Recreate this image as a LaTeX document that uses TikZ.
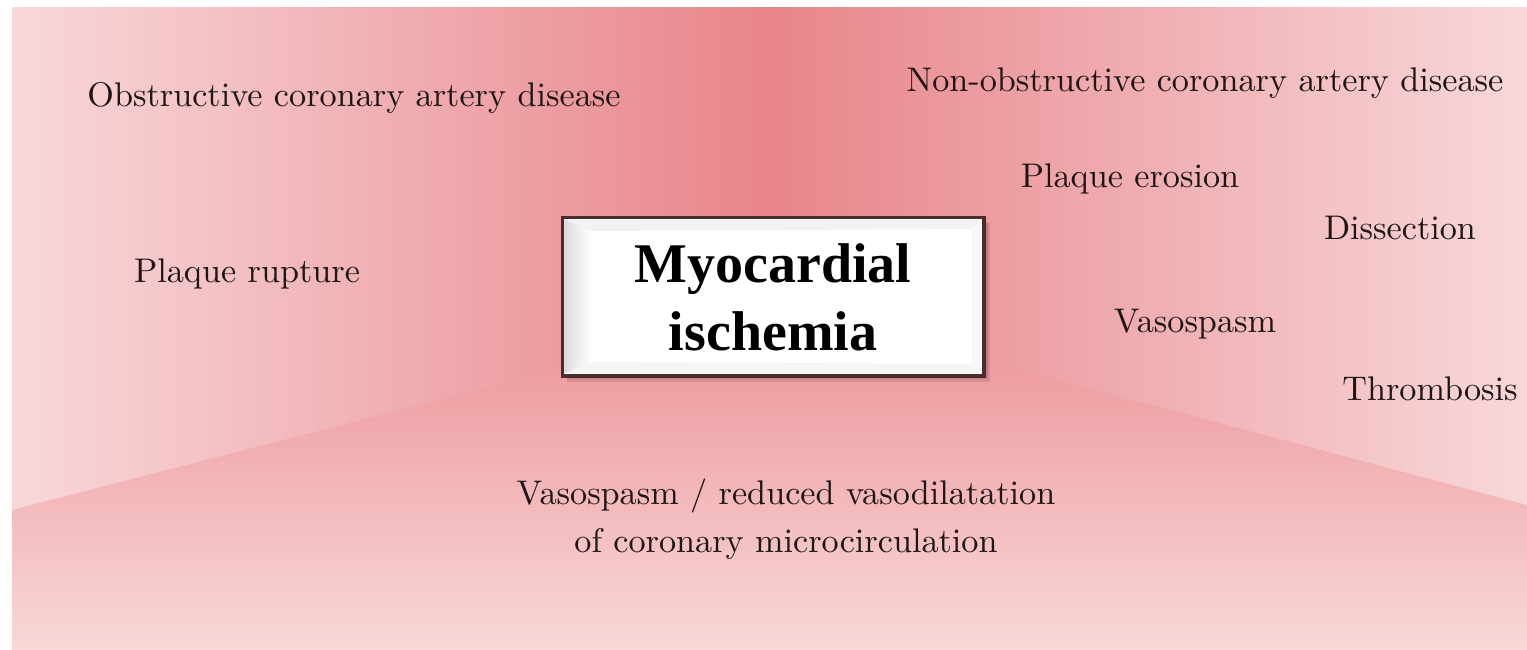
\documentclass[tikz,border=0pt]{standalone}
\usepackage{fontspec}
\newfontfamily\titlefont{Liberation Serif}
\newfontfamily\labelfont{lmroman10-regular.otf}
\definecolor{wallL}{HTML}{F8D8DA}
\definecolor{wallC}{HTML}{E8858A}
\definecolor{wallR}{HTML}{F8D8DA}
\definecolor{floorT}{HTML}{EE9CA0}
\definecolor{floorB}{HTML}{F8D8D8}
\definecolor{boxedge}{HTML}{4A2E2E}
\definecolor{ink}{HTML}{1E1616}
\tikzset{
  lbl/.style={font=\labelfont\fontsize{34.2}{41}\selectfont, text=ink, anchor=base, inner sep=0pt},
  ttl/.style={font=\titlefont\bfseries\fontsize{56}{68}\selectfont, text=black, anchor=base, inner sep=0pt},
  mainbox/.style={draw=boxedge, line width=2.5pt, fill=white, minimum width=420pt, minimum height=157pt, inner sep=0pt}
}
\begin{document}
\begin{tikzpicture}[x=1pt,y=-1pt]
\useasboundingbox (0,0) rectangle (1527,650);
\fill[white] (0,0) rectangle (1527,650);
% walls
\shade[left color=wallL, right color=wallC] (12,8) rectangle (770,515);
\shade[left color=wallC, right color=wallR] (770,8) rectangle (1527,515);
% floor
\shade[top color=floorT, bottom color=floorB] (12,510) -- (563,368) -- (983,360) -- (1527,505) -- (1527,650) -- (12,650) -- cycle;
% box shadow
\fill[black, opacity=0.10] (567,223) rectangle (990,382);
\fill[black, opacity=0.10] (566,222) rectangle (988,379);
% box
\node[mainbox] (box) at (773,296.5) {};
\shade[left color=gray!28, right color=white] (564.5,219.5) -- (592,231) -- (592,362) -- (564.5,373.5) -- cycle;
\fill[gray!10] (564.5,219.5) -- (981.5,219.5) -- (972,229) -- (592,231) -- cycle;
\fill[gray!8] (564.5,373.5) -- (981.5,373.5) -- (972,364) -- (592,362) -- cycle;
\fill[gray!6] (981.5,219.5) -- (981.5,373.5) -- (972,364) -- (972,229) -- cycle;
\draw[boxedge, line width=2.5pt] (box.north west) rectangle (box.south east);
\node[ttl] (title1) at (773,282) {Myocardial};
\node[ttl] (title2) at (773,350) {ischemia};
% labels
\node[lbl] (obs) at (354,107) {Obstructive coronary artery disease};
\node[lbl] (rup) at (247,282) {Plaque rupture};
\node[lbl] (nonobs) at (1205,92) {Non-obstructive coronary artery disease};
\node[lbl] (ero) at (1130,187) {Plaque erosion};
\node[lbl] (dis) at (1400,239) {Dissection};
\node[lbl] (vaso) at (1195,332) {Vasospasm};
\node[lbl] (thr) at (1430,400) {Thrombosis};
\node[lbl] (micro1) at (786,504) {Vasospasm / reduced vasodilatation};
\node[lbl] (micro2) at (786,552) {of coronary microcirculation};
\end{tikzpicture}
\end{document}
